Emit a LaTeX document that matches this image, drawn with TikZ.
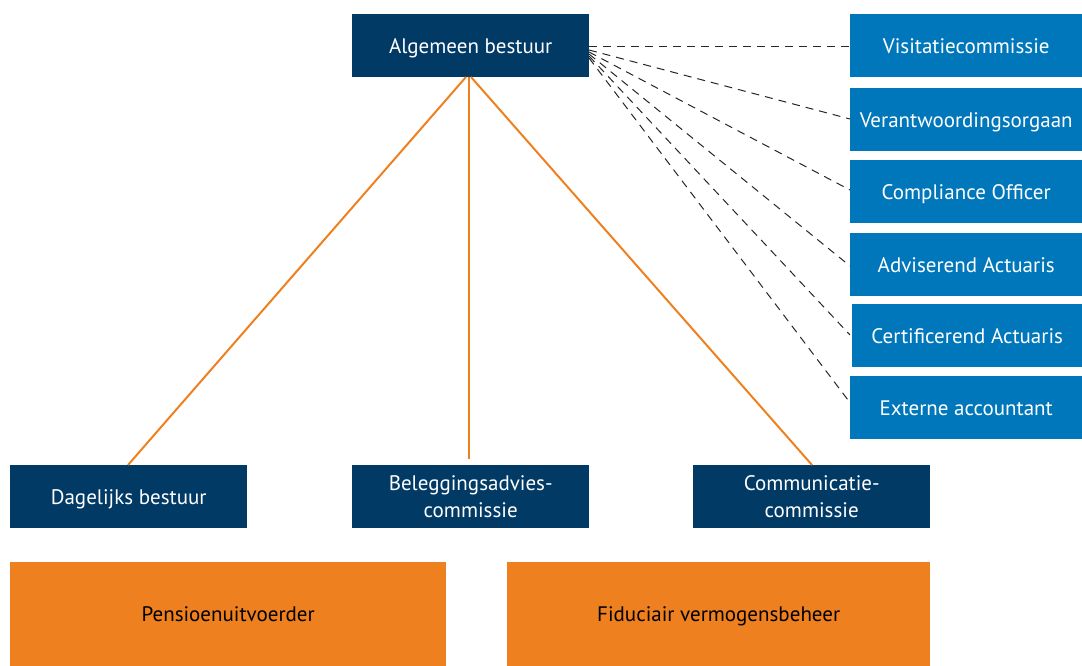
\documentclass[tikz,border=0pt]{standalone}
\usepackage{fontspec}
\setmainfont{PT Sans}
\definecolor{navy}{HTML}{023A66}
\definecolor{blu}{HTML}{0077BB}
\definecolor{org}{HTML}{EE8020}
\begin{document}
\begin{tikzpicture}[x=1pt,y=-1pt,
  box/.style={anchor=north west, inner sep=0pt, align=center, text depth=0pt, font=\fontsize{21}{27}\selectfont},
  dark/.style={box, fill=navy, text=white, minimum width=237pt, minimum height=63pt},
  side/.style={box, fill=blu, text=white, minimum width=232pt, minimum height=63pt},
  exec/.style={box, fill=org, text=black, minimum height=104pt},
  link/.style={draw=org, line width=2pt},
  rel/.style={draw=black!85, line width=1pt, dash pattern=on 8pt off 6pt}]
\useasboundingbox (0,0) rectangle (1082,666);
\node[dark] (ab) at (352,14) {Algemeen bestuur};
\node[side] (vc) at (850,14) {Visitatiecommissie};
\node[side] (vo) at (850,88) {Verantwoordingsorgaan};
\node[side] (co) at (850,160) {Compliance Officer};
\node[side] (aa) at (850,233) {Adviserend Actuaris};
\node[side, minimum width=230pt] (ca) at (852,304) {Certificerend Actuaris};
\node[side] (ea) at (850,376) {Externe accountant};
\node[dark] (db) at (10,465) {Dagelijks bestuur};
\node[dark] (bc) at (352,465) {Beleggingsadvies-\\commissie};
\node[dark] (cc) at (693,465) {Communicatie-\\commissie};
\node[exec, minimum width=436pt] (pu) at (10,562) {Pensioenuitvoerder};
\node[exec, minimum width=423pt] (fv) at (507,562) {Fiduciair vermogensbeheer};
% orange connectors
\coordinate (o1) at (466,77);
\coordinate (o2) at (469,77);
\coordinate (o3) at (471,77);
\coordinate (e1) at (128,465);
\coordinate (e2) at (469,459);
\coordinate (e3) at (812,465);
\draw[link] (o1) -- (e1);
\draw[link] (o2) -- (e2);
\draw[link] (o3) -- (e3);
% dashed connectors
\coordinate (s1) at (589,47);
\coordinate (s2) at (589,50);
\coordinate (s3) at (589,52);
\coordinate (s4) at (589,54);
\coordinate (s5) at (589,56);
\coordinate (s6) at (589,58);
\coordinate (t1) at (850,47);
\coordinate (t2) at (850,119);
\coordinate (t3) at (850,190);
\coordinate (t4) at (850,266);
\coordinate (t5) at (850,335);
\coordinate (t6) at (848,400);
\draw[rel] (s1) -- (t1);
\draw[rel] (s2) -- (t2);
\draw[rel] (s3) -- (t3);
\draw[rel] (s4) -- (t4);
\draw[rel] (s5) -- (t5);
\draw[rel] (s6) -- (t6);
\end{tikzpicture}
\end{document}
